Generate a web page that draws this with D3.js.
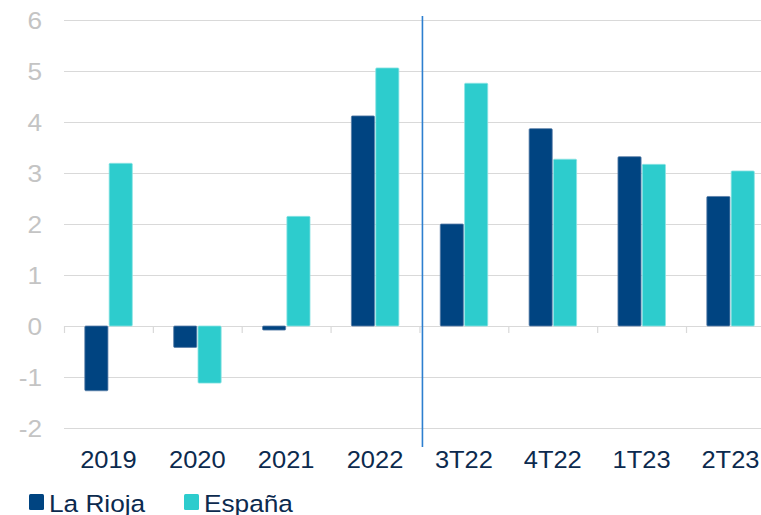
<!DOCTYPE html>
<html>
<head>
<meta charset="utf-8">
<script src="https://cdn.jsdelivr.net/npm/d3@7/dist/d3.min.js"></script>
<style>
  html, body { margin: 0; padding: 0; background: #ffffff; }
  svg { display: block; font-family: "Liberation Sans", Arial, sans-serif; }
</style>
</head>
<body>
<svg id="chart" width="761" height="515"></svg>
<script>
// Periods on the x axis: annual averages, then quarters
const categories = ["2019", "2020", "2021", "2022", "3T22", "4T22", "1T23", "2T23"];
const seriesNames = ["La Rioja", "España"];
const laRioja = [-1.27, -0.42, -0.08, 4.12, 2.0, 3.87, 3.32, 2.54];
const espana  = [3.19, -1.12, 2.15, 5.06, 4.76, 3.27, 3.17, 3.04];
const yTicks = [-2, -1, 0, 1, 2, 3, 4, 5, 6];
const colors = ["#004481", "#2dcccd"];

const svg = d3.select("#chart");
const plotLeft = 64, step = 88.86;
const plotTop = 20, plotBottom = 428;
const textStretch = 1.07; // slightly wide lettering

const x0 = d3.scaleBand()
  .domain(categories)
  .range([plotLeft, plotLeft + step * categories.length])
  .paddingInner(0).paddingOuter(0);

const x1 = d3.scaleBand()
  .domain(seriesNames)
  .range([20.8, 68.3])
  .paddingInner(0.05);

const y = d3.scaleLinear().domain([-2, 6]).range([plotBottom, plotTop]);

// Horizontal gridlines
svg.append("g")
  .selectAll("line")
  .data(yTicks)
  .join("line")
  .attr("x1", plotLeft).attr("x2", 761)
  .attr("y1", d => y(d) + 0.5).attr("y2", d => y(d) + 0.5)
  .attr("stroke", "#d9d9d9").attr("stroke-width", 1.2);

// Y tick labels
svg.append("g")
  .selectAll("text")
  .data(yTicks)
  .join("text")
  .attr("transform", d => `translate(42,${y(d)}) scale(${textStretch},1)`)
  .attr("dy", "0.36em")
  .attr("text-anchor", "end")
  .attr("font-size", 24.5)
  .attr("fill", "#c4c4c4")
  .text(d => d);

// Category boundary ticks hanging from the zero line
const boundaries = categories.map(c => x0(c)).concat([x0.range()[1]]);
svg.append("g")
  .selectAll("line")
  .data(boundaries)
  .join("line")
  .attr("x1", d => d + 0.5).attr("x2", d => d + 0.5)
  .attr("y1", y(0)).attr("y2", y(0) + 7)
  .attr("stroke", "#d9d9d9").attr("stroke-width", 1.2);

// Bars
const rows = categories.map((c, i) => ({ cat: c, values: [laRioja[i], espana[i]] }));
svg.append("g")
  .selectAll("g")
  .data(rows)
  .join("g")
  .attr("transform", d => `translate(${x0(d.cat)},0)`)
  .selectAll("rect")
  .data(d => d.values.map((v, k) => ({ key: seriesNames[k], value: v, k })))
  .join("rect")
  .attr("x", d => x1(d.key))
  .attr("width", x1.bandwidth())
  .attr("y", d => y(Math.max(0, d.value)))
  .attr("height", d => Math.abs(y(d.value) - y(0)))
  .attr("fill", d => colors[d.k])
  .attr("stroke", d => d.k === 0 ? "#5a7fa8" : "#8be3e3")
  .attr("stroke-width", 0.8)
  .attr("rx", 1);

// Separator between annual and quarterly data
const sepX = x0("3T22") + 3;
svg.append("line")
  .attr("x1", sepX).attr("x2", sepX)
  .attr("y1", 16).attr("y2", 447)
  .attr("stroke", "#2d7fcf").attr("stroke-width", 1.6);

// X labels
svg.append("g")
  .selectAll("text")
  .data(categories)
  .join("text")
  .attr("transform", d => `translate(${x0(d) + x0.bandwidth() / 2},468) scale(${textStretch},1)`)
  .attr("text-anchor", "middle")
  .attr("font-size", 23.8)
  .attr("fill", "#0c2a4e")
  .text(d => d);

// Legend
const legend = svg.append("g");
const legendX = [29, 184];
seriesNames.forEach((name, k) => {
  legend.append("rect")
    .attr("x", legendX[k]).attr("y", 494)
    .attr("width", 15).attr("height", 16)
    .attr("rx", 1.5)
    .attr("fill", colors[k]);
  legend.append("text")
    .attr("transform", `translate(${legendX[k] + 20},511.5) scale(${textStretch},1)`)
    .attr("font-size", 24.5)
    .attr("fill", "#0c2a4e")
    .text(name);
});
</script>
</body>
</html>
